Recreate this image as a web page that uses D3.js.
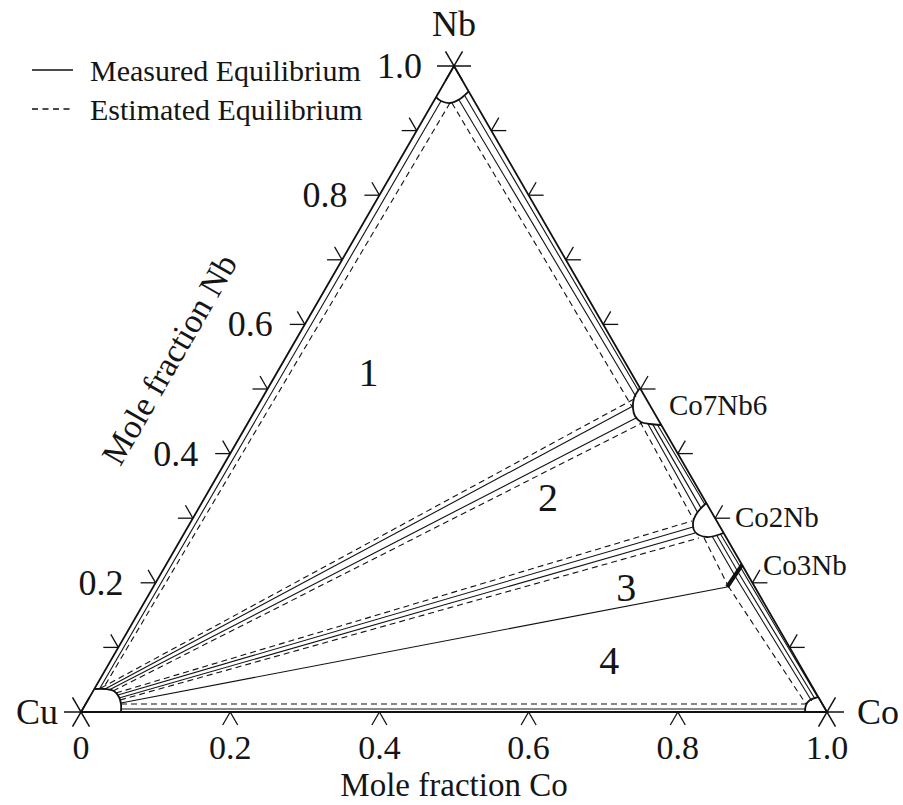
<!DOCTYPE html>
<html><head><meta charset="utf-8">
<script src="https://cdn.jsdelivr.net/npm/d3@7"></script>
<style>
body{margin:0;background:#fff}
text{font-family:"Liberation Serif","Times New Roman",serif;fill:#151515}
</style>
</head><body>
<svg id="chart" width="903" height="805"></svg>
<script>
// ---------- data (compositions given as [xCo, xNb]) ----------
const vertexNames = ["Cu", "Co", "Nb"];
const vertexComp = [[0, 0], [1, 0], [0, 1]];
const nbTicks = [0.1, 0.2, 0.3, 0.4, 0.5, 0.6, 0.7, 0.8, 0.9];
const nbTickLabels = [0.2, 0.4, 0.6, 0.8, 1.0];
const coTicks = [0.2, 0.4, 0.6, 0.8];
const coTickLabels = [0, 0.2, 0.4, 0.6, 0.8, 1.0];
const rightTicks = [0.1, 0.2, 0.3, 0.4, 0.5, 0.6, 0.7, 0.8, 0.9]; // Nb on Nb–Co side

// phase fields (single-phase outlines)
const nbPhase = [[0, .952], [.0097, .9458], [.0232, .9427], [.0335, .9489], [.0394, .9606]];
const cuPhase = [[.001, .0356], [.0157, .0356], [.0279, .0325], [.0393, .0232], [.0474, .0124], [.0536, 0]];
const co7nb6Phase = [[.4985, .5015], [.4983, .4861], [.5046, .4706], [.5135, .4582], [.5262, .4489], [.5398, .4458], [.5554, .4443]];
const co2nbPhase = [[.6765, .3235], [.6717, .308], [.6741, .2926], [.6838, .2786], [.7037, .2709], [.7229, .2771]];
const coPhase = [[.9705, 0], [.9664, .0108], [.9679, .0186], [.9763, .0232]];
const co3nbPhase = [[.7724, .2276], [.7693, .1935]];

// measured (solid) tie-line boundaries
const measuredLines = [
  [[.0144, .0356], [.5032, .4737]],
  [[.0205, .0341], [.5164, .4551]],
  [[.0364, .0263], [.6772, .2864]],
  [[.0401, .0217], [.6846, .2771]],
  [[.0466, .0139], [.7693, .1935]],
  [[.0097, .9458], [.007, .0355]],
  [[.0513, .0046], [.968, .0046]],
  [[.0379, .9536], [.499, .497]],
  [[.033, .9474], [.500, .488]],
  [[.55, .445], [.675, .322]],
  [[.543, .446], [.673, .316]],
  [[.536, .447], [.672, .309]],
  [[.719, .276], [.772, .224]],
  [[.715, .274], [.772, .217]],
  [[.710, .272], [.772, .21]],
  [[.772, .224], [.977, .022]],
  [[.7715, .2175], [.974, .02]],
  [[.771, .211], [.971, .017]]
];
// estimated (dashed) boundaries
const estimatedLines = [
  [[.0082, .0372], [.499, .4845]],
  [[.0266, .0325], [.5283, .4474]],
  [[.0322, .0294], [.6712, .2957]],
  [[.043, .0186], [.6937, .2693]],
  [[.0232, .9427], [.0115, .0345]],
  [[.0474, .0124], [.9643, .0124]],
  [[.0259, .9427], [.503, .472]],
  [[.525, .449], [.672, .298]],
  [[.70, .27], [.769, .196]],
  [[.770, .195], [.966, .012]]
];

const regionLabels = ["1", "2", "3", "4"];
const regionComp = [[.122, .527], [.4596, .3328], [.634, .1935], [.668, .08]];

const phaseLabels = ["Co7Nb6", "Co2Nb", "Co3Nb"];
const phaseLabelComp = [[.5583, .4598], [.7335, .2864], [.8082, .2121]];

const legendItems = ["Measured Equilibrium", "Estimated Equilibrium"];

// ---------- scales ----------
const svg = d3.select("#chart");
const x = d3.scaleLinear().domain([0, 1]).range([81, 827]);
const y = d3.scaleLinear().domain([0, 1]).range([712, 66]);
const P = ([co, nb]) => [x(co + nb / 2), y(nb)];

const line = d3.line();
const curve = d3.line().curve(d3.curveCatmullRom.alpha(0.5));

const g = svg.append("g");

// triangle
g.append("path")
  .attr("d", line(vertexComp.map(P)) + "Z")
  .attr("fill", "none").attr("stroke", "#111").attr("stroke-width", 1.8)
  .attr("stroke-linejoin", "miter");

// vertex marks (three short strokes through each vertex)
const dirs = [[1, 0], [0.5, -0.866], [0.5, 0.866]];
vertexComp.forEach(v => {
  const [px, py] = P(v);
  dirs.forEach(([dx, dy]) => {
    g.append("line")
      .attr("x1", px - dx * 17).attr("y1", py - dy * 17)
      .attr("x2", px + dx * 17).attr("y2", py + dy * 17)
      .attr("stroke", "#111").attr("stroke-width", 1.5);
  });
});

function tick(pt, legs) {
  const [px, py] = pt;
  legs.forEach(([dx, dy]) => {
    g.append("line")
      .attr("x1", px).attr("y1", py)
      .attr("x2", px + dx * 15).attr("y2", py + dy * 15)
      .attr("stroke", "#111").attr("stroke-width", 1.3);
  });
}
// left side ticks (Nb)
nbTicks.forEach(t => tick(P([0, t]), [[-1, 0], [-0.5, -0.866]]));
// bottom ticks (Co)
coTicks.forEach(t => tick(P([t, 0]), [[-0.5, 0.866], [0.5, 0.866]]));
// right side ticks
rightTicks.forEach(t => tick(P([1 - t, t]), [[1, 0], [0.5, -0.866]]));

// tick labels
const fmt = d => d === 0 ? "0" : d3.format(".1f")(d);
nbTickLabels.forEach(t => {
  const [px, py] = P([0, t]);
  g.append("text").attr("x", px - 32).attr("y", py + 12)
    .attr("text-anchor", "end").attr("font-size", 36).text(fmt(t));
});
coTickLabels.forEach(t => {
  const [px, py] = P([t, 0]);
  g.append("text").attr("x", px).attr("y", py + 47)
    .attr("text-anchor", "middle").attr("font-size", 34).text(fmt(t));
});

// axis titles
g.append("text").attr("x", x(0.5)).attr("y", 796)
  .attr("text-anchor", "middle").attr("font-size", 33).text("Mole fraction Co");
g.append("text").attr("transform", "translate(169,359) rotate(-60)")
  .attr("text-anchor", "middle").attr("dy", "0.35em")
  .attr("font-size", 34).text("Mole fraction Nb");

// vertex names
const [nbx, nby] = P(vertexComp[2]);
g.append("text").attr("x", nbx).attr("y", nby - 30).attr("text-anchor", "middle")
  .attr("font-size", 36).text(vertexNames[2]);
const [cux, cuy] = P(vertexComp[0]);
g.append("text").attr("x", cux - 23).attr("y", cuy + 12).attr("text-anchor", "end")
  .attr("font-size", 36).text(vertexNames[0]);
const [cox, coy] = P(vertexComp[1]);
g.append("text").attr("x", cox + 30).attr("y", coy + 12).attr("text-anchor", "start")
  .attr("font-size", 36).text(vertexNames[1]);

// tie lines
const lines = g.append("g").attr("fill", "none").attr("stroke", "#111");
measuredLines.forEach(s => lines.append("path").attr("d", line(s.map(P))).attr("stroke-width", 1.1));
estimatedLines.forEach(s => lines.append("path").attr("d", line(s.map(P)))
  .attr("stroke-width", 1.1).attr("stroke-dasharray", "6,4"));

// single phase outlines
[nbPhase, cuPhase, co7nb6Phase, co2nbPhase, coPhase].forEach(ph =>
  lines.append("path").attr("d", curve(ph.map(P))).attr("stroke-width", 1.8));
lines.append("path").attr("d", line(co3nbPhase.map(P))).attr("stroke-width", 4);

// region numbers
regionLabels.forEach((r, i) => {
  const [px, py] = P(regionComp[i]);
  g.append("text").attr("x", px).attr("y", py).attr("dy", "0.35em")
    .attr("text-anchor", "middle").attr("font-size", 40).text(r);
});

// phase labels
phaseLabels.forEach((t, i) => {
  const [px, py] = P(phaseLabelComp[i]);
  g.append("text").attr("x", px).attr("y", py).attr("font-size", 29).text(t);
});

// legend
const leg = svg.append("g");
legendItems.forEach((t, i) => {
  const ly = 70 + i * 39;
  leg.append("line").attr("x1", 32).attr("x2", 73).attr("y1", ly).attr("y2", ly)
    .attr("stroke", "#111").attr("stroke-width", 1.4)
    .attr("stroke-dasharray", i ? "6,4.5" : null);
  leg.append("text").attr("x", 90).attr("y", ly + 11).attr("font-size", 30).text(t);
});
</script>
</body></html>
